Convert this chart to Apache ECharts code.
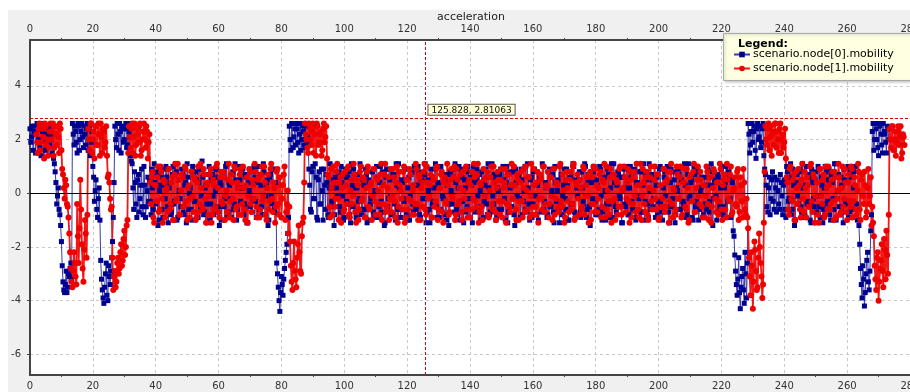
<!DOCTYPE html>
<html lang="en">
<head>
    <meta charset="UTF-8">
    <title>acceleration</title>
    <script src="https://cdn.jsdelivr.net/npm/echarts@6/dist/echarts.min.js"></script>
</head>
<body style="margin:0">
<div id="main" style="width: 910px; height:392px;"></div>

<script>
    // samples every 0.25 s: "Accel" holds the samples on the half second,
    // "AccelMid" the ones a quarter second later. node[1] starts 2 s later.
    var T_STEP = 0.5;
    var node0Start = 0;
    var node1Start = 2;

    var node0Accel = [
        2.4, 2.1, 1.6, 2.5, 2.2, 1.9, 2.6, 1.4, 2.3, 2.0, 2.5, 1.7, 2.4, 2.2, 1.5, 1.3,
        0.8, -0.4, 0.2, -0.8,
        -1.8, -3.3, -3.7, -2.9, -3.5, -3.1, -2.6,
        2.6, 1.8, 2.3, 1.5, 2.5, 2.0, 2.6, 1.7, 2.2, 2.4, 1.6, 2.5, 1.9,
        1.0, -0.3, 0.5, -0.9, 0.2,
        -2.5, -3.6, -4.1, -3.0, -3.8, -2.7, -3.4, -2.4,
        -0.9,
        2.5, 1.7, 2.2, 2.6, 1.5, 2.4, 2.0, 2.6, 1.8, 2.3, 1.4,
        1.1, -0.6, 0.4, -0.9, 0.7, -0.2, 0.9, -0.8, 0.3, -0.5, 0.6,
        0.5, -0.8, 0.2, 1.1, -0.4, 0.7, -1.0, 0.3, -0.6, 0.9, -0.2, 0.6, -1.1, 0.4, -0.7, 1.0, -0.3, 0.8, -0.9, 0.1,
        -0.5, 0.7, -0.8, 0.4, 1.1, -0.6, 0.2, -1.0, 0.8, -0.3, 0.5, -0.9, 0.9, -0.1, 0.6, -0.7, 0.3, -1.1, 1.0, -0.4,
        0.7, -0.8, 0.1, 0.9, -0.5, 0.4, -1.0, 0.6, -0.2, 1.1, -0.7, 0.3, -0.9, 0.8, -0.4, 0.5, -0.6, 1.0, -0.3, 0.2,
        -0.8, 0.7, -1.1, 0.4, -0.5, 0.9, -0.2, 0.6, -0.9, 1.0, -0.6, 0.3, -0.8, 0.8, -0.1, 0.5, -1.0, 0.7, -0.4, 0.9,
        -0.7,
        -2.6, -3.5, -4.4, -3.1, -3.8, -2.8, -2.2, -1.5,
        2.5, 1.6, 2.6, 2.1, 1.8, 2.4, 1.5, 2.6, 2.0, 2.3, 1.7, 2.5, 1.9,
        0.3, -0.7, 1.0, -0.2, 0.6, -1.0, 0.8, -0.4, 0.1, 0.9, -0.6, 0.4, -0.9, 1.1, -0.3, 0.5, -0.8, 0.2, 0.7, -0.5,
        1.0, -0.1, -0.9, 0.6, -0.4, 0.8, -1.1, 0.3, 0.9, -0.7, 0.2, -0.3, 1.1, -0.8, 0.5, -0.6, 0.7, -1.0, 0.4, -0.2,
        0.8, -0.9, 0.1, 0.6, -0.5, 1.0, -0.7, 0.3, -1.1, 0.9, -0.2, 0.5, -0.8, 0.7, -0.4, 1.1, -0.6, 0.2, -0.9, 0.4,
        -0.3, 0.9, -1.0, 0.6, -0.1, 0.8, -0.7, 0.3, -0.5, 1.0, -0.8, 0.4, -0.2, 0.7, -1.1, 0.5, -0.6, 0.9, -0.4, 0.2,
        1.1, -0.9, 0.3, -0.6, 0.8, -0.2, 0.5, -1.0, 0.7, -0.4, 0.1, 0.9, -0.7, 0.4, -0.8, 1.0, -0.3, 0.6, -1.1, 0.2,
        -0.5, 0.8, -0.9, 0.3, 1.0, -0.6, 0.5, -0.1, 0.7, -1.0, 0.4, -0.3, 0.9, -0.8, 0.2, -0.7, 1.1, -0.4, 0.6, -0.9,
        0.1, 0.7, -0.6, 1.0, -0.2, 0.4, -1.1, 0.8, -0.5, 0.3, -0.8, 0.9, -0.1, 0.6, -0.9, 0.5, -0.3, 1.0, -0.7, 0.2,
        -1.0, 0.6, -0.4, 0.9, -0.8, 0.3, 0.7, -0.2, 1.1, -0.6, 0.4, -0.9, 0.8, -0.5, 0.1, -0.7, 1.0, -0.3, 0.5, -1.1,
        0.7, -0.1, 0.9, -0.6, 0.3, -1.0, 0.6, -0.4, 1.0, -0.8, 0.2, 0.5, -0.7, 0.8, -0.3, 1.1, -0.9, 0.4, -0.5, 0.6,
        -0.2, 1.0, -0.8, 0.3, -0.6, 0.9, -1.0, 0.5, 0.1, -0.4, 0.7, -0.9, 1.1, -0.3, 0.4, -0.7, 0.8, -0.1, 0.6, -1.1,
        0.9, -0.5, 0.2, -0.8, 1.0, -0.3, 0.6, -0.9, 0.4, -0.1, 0.8, -0.7, 0.3, -1.0, 0.7, -0.4, 1.1, -0.6, 0.5, -0.2,
        -0.9, 0.6, -0.3, 1.0, -0.7, 0.2, 0.8, -0.5, 0.4, -1.1, 0.9, -0.2, 0.5, -0.8, 0.1, 0.7, -0.6, 1.0, -0.4, 0.3,
        -0.8, 1.1, -0.1, 0.5, -1.0, 0.7, -0.3, 0.9, -0.6, 0.2, -0.9, 0.6, -0.4, 1.0, -0.7, 0.3, 0.8, -0.2, 0.4, -1.0,
        0.6, -0.5, 0.9, -0.8, 0.2, 1.0, -0.3, 0.7, -0.9, 0.4,
        -1.6, -2.9, -3.8, -2.4, -4.3, -3.1, -3.6, -2.2, -3.9,
        2.6, 1.5, 2.3, 1.9, 2.5, 1.3, 2.6, 2.1, 1.7, 2.4, 1.4,
        0.7, -0.5, 0.2, -0.8, 0.5, -0.3, 0.6, -0.7, 0.1, -0.6, 0.4, -0.8,
        0.5, -0.9, 0.8, -0.2, 1.1, -0.6, 0.3, -1.0, 0.7, -0.4, 0.9, -0.7, 0.2, -0.8, 1.0, -0.3, 0.6, -1.1, 0.4, -0.5,
        0.8, -0.1, 0.9, -0.9, 0.3, -0.6, 1.0, -0.4, 0.5, -0.8, 0.7, -0.2, 1.1, -1.0, 0.1, -0.5, 0.6, -0.7, 0.9, -0.3,
        0.4, -0.9, 0.8, -0.6, 0.2, 1.0, -0.4,
        -0.6, -1.9, -3.4, -2.7, -4.2, -3.0, -2.2, -3.6, -1.4,
        2.3, 1.6, 2.6, 2.0, 1.4, 2.5, 1.8, 2.6, 2.2, 1.5, 2.4
    ];

    var node0AccelMid = [
        1.9, 2.5, 2.3, 1.5, 2.6, 2.0, 1.7, 2.4, 2.6, 1.6, 2.2, 2.5, 1.8, 2.0, 2.6, 1.1,
        0.4, -0.1, -0.6, -1.2,
        -2.7, -3.6, -3.4, -3.7, -3.0, -2.8, -3.2,
        2.2, 2.5, 1.9, 2.6, 1.6, 2.3, 2.1, 2.5, 1.8, 2.6, 2.0, 1.4, 2.3,
        0.6, 0.1, -0.6, -0.2, -1.0,
        -3.2, -3.9, -3.5, -2.6, -4.0, -3.1, -2.9, -1.8,
        0.4,
        2.0, 2.6, 1.6, 2.3, 2.5, 1.9, 2.4, 1.7, 2.6, 2.1, 1.2,
        0.2, 0.8, -0.4, 0.5, -0.7, 0.3, -0.5, 1.0, -0.9, 0.1, -0.3,
        -0.3, 0.9, -0.6, 0.4, 0.8, -1.2, 0.1, 0.6, -0.9, 0.3, 1.0, -0.5, 0.2, -0.8, 0.7, -0.4, 1.1, -1.0, 0.5, -0.2,
        0.9, -0.7, 0.3, -1.1, 0.6, 0.0, -0.6, 1.0, -0.3, 0.8, -0.9, 0.4, -0.5, 1.2, -0.8, 0.2, -0.4, 0.7, -1.0, 0.5,
        -0.1, 0.9, -0.7, 0.6, -1.2, 0.3, 0.8, -0.5, 1.0, -0.9, 0.4, -0.2, 0.7, -0.6, 1.1, -1.0, 0.2, 0.5, -0.8, 0.9,
        -0.4, 0.6, -1.1, 0.1, 0.8, -0.7, 1.0, -0.3, 0.4, -0.9, 0.7, -0.5, 1.1, -0.8, 0.3, -1.2, 0.6, -0.1, 0.9, -0.6,
        0.4,
        -3.0, -4.0, -3.7, -3.4, -3.2, -2.5, -1.9, -0.9,
        2.0, 2.6, 1.7, 2.4, 2.6, 1.9, 2.2, 1.6, 2.5, 1.8, 2.6, 2.1, 0.9,
        -0.6, 0.8, -0.2, 1.1, -0.9, 0.5, -0.4, 0.9, -1.0, 0.3, 0.7, -0.8, 0.2, -0.5, 1.0, -1.2, 0.6, -0.1, 0.8, -0.7,
        0.4, -1.0, 0.9, -0.3, 0.6, -0.8, 1.1, -0.5, 0.2, -0.9, 0.7, -0.2, 1.0, -0.6, 0.3, 0.9, -1.1, 0.5, -0.4, 0.8,
        -0.7, 0.1, 1.0, -0.9, 0.4, -0.3, 0.8, -1.2, 0.6, -0.5, 0.9, -0.1, -0.8, 0.7, -1.0, 0.3, 1.1, -0.6, 0.5, -0.2,
        0.9, -0.8, 0.2, -1.0, 0.7, -0.4, 1.0, -0.6, 0.3, 0.8, -0.9, 0.5, -0.2, 1.1, -0.7, 0.1, -1.1, 0.6, -0.3, 0.9,
        -0.5, 0.4, -0.9, 1.0, -0.1, 0.7, -0.8, 0.3, -1.2, 0.8, -0.4, 0.6, 1.1, -0.6, 0.2, -1.0, 0.9, -0.3, 0.5, -0.7,
        1.0, -0.2, 0.6, -1.1, 0.4, -0.7, 0.9, -0.5, 0.1, 0.8, -0.9, 0.3, -0.4, 1.1, -0.8, 0.6, -0.1, 0.7, -1.0, 0.2,
        -0.6, 0.9, -0.3, 0.5, -1.0, 1.0, -0.7, 0.2, -0.5, 0.8, -1.2, 0.4, 0.7, -0.2, 0.9, -0.8, 0.1, -0.6, 1.1, -0.4,
        0.5, -0.9, 0.8, -0.1, 0.3, -1.0, 0.6, -0.7, 1.0, -0.3, 0.2, -0.8, 0.9, -0.5, 0.7, -1.1, 0.4, 0.1, -0.6, 1.0,
        -0.8, 0.3, -0.2, 0.9, -1.0, 0.6, -0.4, 1.1, -0.7, 0.5, -0.1, 0.8, -0.9, 0.2, -0.5, 1.0, -0.6, 0.7, -1.2, 0.4,
        0.8, -0.3, 0.5, -0.8, 1.0, -0.1, -0.7, 0.6, -1.0, 0.9, -0.4, 0.2, -0.9, 1.1, -0.5, 0.3, 0.7, -0.2, -1.1, 0.6,
        -0.4, 1.0, -0.8, 0.2, 0.6, -0.6, 0.9, -1.0, 0.4, -0.2, 0.8, -0.7, 1.1, -0.3, 0.5, -0.9, 0.1, 0.7, -0.5, 1.0,
        0.3, -0.8, 0.9, -0.4, -1.0, 0.6, -0.1, 1.0, -0.7, 0.4, -0.5, 0.8, -1.1, 0.2, 0.9, -0.6, 0.5, -0.3, 1.1, -0.9,
        0.7, -0.2, 0.4, -0.9, 1.0, -0.5, 0.8, -1.0, 0.1, 0.6, -0.8, 0.3, -0.6, 0.9, -0.3, 1.1, -1.2, 0.5, -0.1, 0.7,
        -0.7, 0.2, 1.0, -0.5, 0.4, -0.9, 0.8, -0.2, 0.5, -1.4,
        -2.3, -3.4, -3.2, -3.7, -3.5, -2.8, -4.1, -3.0, -2.6,
        2.2, 1.8, 2.6, 2.3, 1.6, 2.4, 2.0, 2.5, 1.9, 2.6, 0.9,
        0.3, -0.7, 0.6, -0.2, 0.8, -0.6, 0.2, 0.5, -0.4, 0.7, -0.1, 0.3,
        -0.6, 1.0, -0.3, 0.6, -0.8, 0.9, -1.2, 0.4, -0.1, 0.8, -0.5, 1.1, -0.9, 0.3, -0.4, 0.7, -1.0, 0.9, -0.2, 0.5,
        -0.7, 1.0, -0.5, 0.6, -1.1, 0.2, 0.8, -0.3, 0.9, -1.0, 0.4, -0.6, 1.1, -0.2, 0.7, -0.8, 0.3, -1.1, 0.5, -0.4,
        1.0, -0.7, 0.6, -0.3, 0.8, -0.6, -1.0,
        -1.2, -2.8, -3.9, -3.2, -3.7, -2.5, -3.3, -2.9, -0.8,
        2.6, 2.0, 2.4, 1.7, 2.6, 2.2, 1.5, 2.3, 1.9, 2.5, 2.0
    ];

    var node1Accel = [
        2.2, 1.5, 2.6, 1.9, 2.4, 1.3, 2.5, 2.0, 1.7, 2.6, 2.3, 1.4, 2.5, 1.8, 2.1, 2.6, 1.6,
        0.7, -0.2, 0.3, -0.5,
        -1.5, -2.8, -3.5, -2.2, -3.1,
        -0.4, -2.6, 0.5, -1.9, -3.3, -1.0, -2.4,
        2.4, 1.6, 2.6, 2.0, 1.3, 2.5, 1.8, 2.2, 2.6, 1.5, 2.3, 1.9, 1.4,
        0.7, -0.2, -0.5,
        -3.6, -2.9, -3.3, -2.4, -2.8, -1.9, -2.5, -1.4, -2.0, -1.0,
        2.5, 1.7, 2.6, 2.1, 1.4, 2.4, 1.9, 2.6, 1.6, 2.3, 2.0, 2.5, 1.3, 2.2,
        -0.4, 0.8, -1.1, 0.3, 0.6, -0.7, 1.0, -0.2, 0.5, -0.9, 0.2, 0.9, -0.6, 0.4, -1.0, 0.7, -0.3, 1.1, -0.8, 0.1,
        0.6, -0.5, 0.9, -1.0, 0.3, -0.2, 0.8, -0.7, 0.5, -0.9, 1.0, -0.4, 0.2, -0.6, 0.7, -1.1, 0.4, -0.1, 0.9, -0.8,
        0.3, -0.5, 1.1, -0.7, 0.6, -0.3, 0.8, -1.0, 0.1, 0.5, -0.9, 0.7, -0.2, 1.0, -0.6, 0.4, -0.8, 0.9, -0.4, 0.2,
        -1.0, 0.6, -0.1, 0.8, -0.7, 0.3, 1.1, -0.5, 0.5, -0.9, 0.7, -0.3, 1.0, -0.8, 0.2, -0.6, 0.9, -0.2, 0.4, -1.1,
        0.8, -0.4, 0.6, -0.9, 0.3, 1.0, -0.7, 0.1,
        -0.5, -2.7, -3.6, -1.8, -3.2, -2.4, -1.2, -2.9, -1.6, -0.9,
        2.6, 2.0, 1.5, 2.4, 1.8, 2.6, 2.2, 1.4, 2.5, 1.9, 2.3, 1.6, 2.6, 2.1, 1.3,
        0.6, -0.9, 0.2, 1.0, -0.5, 0.8, -0.2, 0.4, -1.1, 0.7, -0.6, 0.3, 0.9, -0.8, 0.1, -0.4, 1.1, -0.7, 0.5, -1.0,
        0.8, -0.3, 0.6, -0.9, 0.2, 1.0, -0.6, 0.4, -0.1, 0.9, -0.8, 0.5, -0.4, 0.7, -1.0, 0.3, 1.1, -0.5, 0.6, -0.2,
        -0.7, 0.9, -0.3, 0.4, -1.1, 0.8, 0.1, -0.6, 1.0, -0.9, 0.5, -0.2, 0.7, -0.8, 0.3, -0.4, 0.9, -1.0, 0.6, 0.2,
        -0.5, 1.1, -0.8, 0.4, -0.1, 0.7, -0.9, 0.5, -0.3, 1.0, -0.6, 0.2, 0.8, -1.1, 0.6, -0.4, 0.3, -0.7, 0.9, -0.2,
        1.0, -0.8, 0.5, -0.3, 0.7, -1.0, 0.1, 0.9, -0.6, 0.4, -0.9, 0.8, -0.2, 0.6, -0.5, 1.1, -0.7, 0.3, -1.0, 0.5,
        -0.1, 0.8, -0.9, 0.6, -0.4, 1.0, -0.7, 0.2, 0.5, -0.8, 0.9, -0.3, 0.4, -1.1, 0.7, -0.5, 0.3, -0.2, 1.0, -0.6,
        0.7, -1.0, 0.4, -0.3, 0.9, -0.7, 0.1, 0.6, -0.9, 1.1, -0.5, 0.3, -0.8, 0.8, -0.2, 0.5, -0.6, 1.0, -0.4, 0.2,
        -0.9, 0.6, -0.1, 0.9, -0.8, 0.4, -0.5, 1.0, -0.3, 0.7, -1.1, 0.5, 0.2, -0.7, 0.8, -0.4, 1.1, -0.9, 0.3, -0.2,
        0.5, -0.6, 1.0, -0.8, 0.3, -0.1, 0.7, -1.0, 0.6, -0.4, 0.9, -0.7, 0.2, 0.8, -0.5, 0.4, -0.9, 1.0, -0.3, 0.6,
        -1.1, 0.7, -0.2, 0.5, -0.8, 0.9, -0.5, 0.1, 1.0, -0.7, 0.4, -0.3, 0.8, -0.9, 0.6, -0.1, 1.1, -0.6, 0.3, -1.0,
        0.9, -0.4, 0.6, -0.8, 0.2, 1.0, -0.6, 0.5, -0.2, 0.7, -1.0, 0.3, -0.5, 0.9, -0.7, 0.4, 0.8, -0.3, 1.1, -0.9,
        0.1, -0.6, 0.7, -0.2, 1.0, -0.8, 0.4, -0.5, 0.9, -1.1, 0.6, -0.3, 0.8, -0.7, 0.2, 1.0, -0.4, 0.5, -0.9, 0.3,
        -0.1, 0.8, -1.0, 0.6, -0.5, 0.9, -0.2, 0.4, -0.8, 1.1, -0.6, 0.3, 0.7, -0.9, 0.5, -0.3, 1.0, -0.7, 0.2, -0.4,
        0.8, -1.0, 0.6, -0.3, 0.9, -0.6,
        -0.2, -1.3, -3.1, -2.2, -4.3, -1.8, -2.9, -3.5, -1.5, -2.6, -3.9, -1.1,
        2.5, 1.8, 2.6, 2.1, 1.4, 2.3, 2.6, 1.7, 2.0, 2.4, 1.5, 2.2, 1.9, 1.3,
        0.4, -0.8, 1.0, -0.3, 0.7, -1.0, 0.2, 0.9, -0.6, 0.5, -0.2, 0.8, -0.9, 0.3, -0.5, 1.1, -0.7, 0.6, -0.1, 0.4,
        -1.1, 0.9, -0.4, 0.7, -0.8, 0.2, 1.0, -0.6, 0.5, -0.3, 0.8, -0.9, 0.1, 0.6, -0.7, 1.0, -0.2, 0.4, -1.0, 0.7,
        -0.5, 0.9, -0.3, 0.3, -0.8, 1.1, -0.6, 0.5, -0.1, 0.8, -0.9, 0.2, -0.4, 0.6,
        -0.5, -1.6, -3.2, -2.4, -4.0, -2.8, -1.9, -3.5, -2.1, -1.4, -3.0,
        2.4, 1.7, 2.5, 2.0, 1.4, 2.3, 1.8, 2.5, 1.5, 2.1
    ];

    var node1AccelMid = [
        1.9, 2.4, 1.6, 2.5, 2.1, 2.6, 1.8, 1.4, 2.3, 2.0, 2.6, 1.7, 2.2, 2.5, 1.5, 2.4, 0.9,
        0.2, 0.5, -0.4, -0.9,
        -2.2, -3.3, -2.9, -2.6, -3.4,
        -1.6, -1.3, -0.6, -2.8, -2.1, -1.5, -0.8,
        2.0, 2.6, 1.5, 2.3, 2.5, 1.8, 2.6, 1.4, 2.1, 2.4, 1.7, 2.5, 0.6,
        0.4, -0.6, -2.4,
        -3.1, -3.5, -2.6, -3.0, -2.2, -2.7, -1.7, -2.3, -1.2, 1.5,
        2.1, 2.4, 1.5, 2.6, 1.8, 2.2, 2.5, 1.4, 2.0, 2.6, 1.7, 2.3, 1.9, 0.4,
        0.6, -0.9, 0.3, -0.3, 1.0, -0.6, 0.8, -1.1, 0.4, 0.1, -0.7, 0.9, -0.4, 0.6, -1.0, 1.1, -0.2, 0.5, -0.8, 0.7,
        -0.5, 1.0, -0.3, 0.2, -0.9, 0.8, -0.1, 0.6, -1.0, 0.4, -0.7, 1.1, -0.5, 0.9, -0.2, 0.3, -0.8, 0.7, -1.1, 0.5,
        -0.6, 1.0, 0.2, -0.9, 0.8, -0.4, 0.6, -0.1, -0.7, 1.1, -0.3, 0.4, -1.0, 0.9, -0.5, 0.2, 0.7, -0.8, 1.0, -0.6,
        0.3, -1.1, 0.9, -0.4, 0.5, -0.2, 0.8, -0.9, 0.6, -0.6, 1.0, -0.1, 0.4, -1.0, 0.7, -0.3, 1.1, -0.7, 0.2, -0.5,
        0.9, -0.8, 0.3, -0.2, 0.7, -1.0, -0.4, -1.5,
        -1.8, -3.3, -2.6, -2.9, -3.5, -1.9, -2.2, -3.0, -1.1, 0.4,
        2.2, 1.7, 2.6, 2.0, 2.3, 1.5, 2.5, 2.6, 1.8, 2.2, 1.4, 2.4, 1.9, 2.5, 0.7,
        -0.5, 0.9, -0.8, 0.4, -0.2, 1.1, -1.0, 0.6, 0.2, -0.7, 0.8, -0.4, 1.0, -0.9, 0.5, -0.1, 0.7, -1.1, 0.3, -0.6,
        1.0, -0.2, 0.5, -0.9, 0.8, -0.5, 0.3, -1.0, 0.9, -0.3, 0.6, 0.1, -0.8, 1.1, -0.4, 0.7, -0.7, 0.2, -1.0, 0.9,
        -0.1, 0.6, -0.9, 1.0, -0.5, 0.3, -0.2, 0.8, -1.1, 0.5, -0.6, 0.9, -0.3, 0.1, -0.8, 1.1, -0.4, 0.7, -1.0, 0.4,
        0.8, -0.6, 1.0, -0.2, 0.3, -0.9, 0.6, -0.5, 0.9, -1.0, 0.2, 0.7, -0.7, 0.4, -0.3, 1.1, -0.8, 0.5, -0.1, 0.6,
        -1.0, 0.9, -0.4, 0.2, -0.7, 0.8, -0.2, 1.0, -0.9, 0.5, 0.3, -0.6, 1.1, -0.3, 0.7, -1.1, 0.4, -0.5, 0.9, -0.1,
        0.6, -0.8, 0.1, 1.0, -0.6, 0.4, -1.0, 0.8, -0.3, 0.5, -0.9, 0.2, 0.9, -0.4, 0.7, -0.7, 1.1, -0.2, 0.3, -1.0,
        0.5, -0.3, 0.8, -0.9, 0.2, 1.0, -0.6, 0.6, -0.1, -0.8, 0.9, -0.5, 0.4, -1.1, 0.7, -0.2, 1.0, -0.7, 0.3, 0.8,
        -0.4, 0.6, -1.0, 0.9, -0.2, 0.3, -0.7, 1.1, -0.5, 0.1, -0.9, 0.8, -0.3, 0.5, -0.6, 1.0, -1.0, 0.4, 0.7, -0.8,
        0.2, -0.5, 0.9, -0.1, 0.6, -1.1, 0.8, -0.4, 1.0, -0.7, 0.3, -0.2, 0.7, -0.9, 0.5, 1.1, -0.6, 0.1, -0.8, 0.9,
        -0.3, 0.7, -1.0, 0.4, -0.5, 1.0, -0.8, 0.2, 0.6, -0.2, 0.9, -1.1, 0.5, -0.4, 0.8, -0.7, 0.3, -0.9, 1.1, -0.1,
        0.4, -0.7, 0.8, -1.0, 0.6, -0.3, 0.1, 1.0, -0.6, 0.7, -0.9, 0.3, -0.2, 0.9, -0.5, 0.5, -1.1, 0.8, -0.4, 0.2,
        -0.8, 1.0, -0.2, 0.6, -0.9, 0.4, 0.9, -0.6, 0.2, -1.0, 0.7, -0.3, 1.1, -0.7, 0.5, -0.1, 0.8, -0.5, 0.3, -0.9,
        1.0, -0.4, 0.6, -1.1, 0.2, 0.8, -0.7, 0.4, -0.3, 0.9, -1.0, 0.5, -0.6, 1.1, -0.2, 0.7, -0.8, 0.1, 0.6, -0.5,
        0.9, -0.7, 0.3, -0.9, 0.4, -0.8,
        -0.9, -2.4, -3.8, -2.7, -3.3, -2.1, -3.6, -2.4, -2.0, -3.1, -3.4, 0.8,
        2.0, 2.4, 1.6, 2.5, 2.2, 1.8, 2.6, 2.3, 1.5, 2.6, 2.0, 1.7, 2.4, 0.6,
        -0.6, 0.9, -0.2, 0.5, -1.0, 0.8, -0.4, 0.3, -0.9, 1.1, -0.7, 0.2, 0.6, -0.5, 1.0, -0.3, 0.7, -1.1, 0.4, -0.8,
        0.9, -0.1, 0.5, -0.9, 1.0, -0.6, 0.3, -0.4, 0.8, -1.0, 0.6, -0.2, 1.1, -0.8, 0.2, -0.5, 0.9, -0.7, 0.4, -0.3,
        1.0, -0.9, 0.6, -0.6, 0.1, 0.8, -1.0, 0.7, -0.4, 0.3, -0.7, 0.9, -0.1, -1.2,
        -1.1, -2.7, -3.6, -2.2, -3.3, -2.5, -2.9, -1.7, -3.2, -2.3, -0.8,
        2.0, 2.5, 1.6, 2.3, 1.9, 2.5, 2.1, 1.3, 2.2, 1.8
    ];

    var xTicks = [0, 280, 20];            // min, max, label step
    var yTickValues = [-6, -4, -2, 0, 2, 4];
    var yRange = [-6.77, 5.71];
    var cursorX = 125.828;
    var cursorY = 2.81063;

    // merge the two sample sets in time order
    function toPoints(t0, values, midValues) {
        var pts = [];
        for (var i = 0; i < values.length; i++) {
            pts.push([t0 + i * T_STEP, values[i]]);
            if (i < midValues.length) {
                pts.push([t0 + i * T_STEP + T_STEP / 2, midValues[i]]);
            }
        }
        return pts;
    }

    var FONT = 'DejaVu Sans';
    var labelStyle = {color: '#333', fontFamily: FONT, fontSize: 10};

    function xAxisOf(pos) {
        return {
            type: 'value',
            position: pos,
            min: xTicks[0],
            max: xTicks[1],
            interval: xTicks[2],
            axisLine: {onZero: false, lineStyle: {color: '#444', width: 2}},
            axisTick: {show: false},
            minorTick: {show: true, splitNumber: 2, length: 2, lineStyle: {color: '#444'}},
            axisLabel: Object.assign({margin: 6, showMaxLabel: true, hideOverlap: false}, labelStyle),
            splitLine: {show: pos === 'bottom', lineStyle: {color: '#c8c8c8', type: [3, 3]}}
        };
    }

    var myChart = echarts.init(document.getElementById('main'));

    var option = {
        animation: false,
        backgroundColor: '#f0f0f0',
        graphic: [
            {type: 'rect', shape: {x: 0, y: 0, width: 910, height: 10}, style: {fill: '#fff'}, silent: true},
            {type: 'rect', shape: {x: 0, y: 0, width: 8, height: 392}, style: {fill: '#fff'}, silent: true},
            {type: 'text', x: 471, y: 17, style: {text: 'acceleration', fill: '#222', font: '11px "DejaVu Sans"', textAlign: 'center', textVerticalAlign: 'middle'}},
            {type: 'rect', z: 100, shape: {x: 723.5, y: 33.5, width: 190, height: 47}, style: {fill: '#ffffe1', stroke: '#a8a8a8', lineWidth: 1, shadowBlur: 3, shadowColor: 'rgba(0,0,0,0.25)', shadowOffsetX: 1, shadowOffsetY: 1}},
            {type: 'text', z: 101, x: 738, y: 44, style: {text: 'Legend:', fill: '#000', font: 'bold 11px "DejaVu Sans"', textVerticalAlign: 'middle'}}
        ],
        legend: {
            z: 102,
            left: 733,
            top: 49,
            orient: 'vertical',
            itemWidth: 16,
            itemHeight: 7,
            itemGap: 3,
            padding: 0,
            textStyle: {color: '#000', fontFamily: FONT, fontSize: 11, padding: [0, 0, 0, -2]},
            data: ['scenario.node[0].mobility', 'scenario.node[1].mobility']
        },
        grid: {
            left: 30,
            right: 0,
            top: 40,
            bottom: 17,
            outerBoundsMode: 'none',
            containLabel: false,
            show: true,
            backgroundColor: '#fff',
            borderWidth: 0
        },
        xAxis: [xAxisOf('bottom'), xAxisOf('top')],
        yAxis: {
            type: 'value',
            min: yRange[0],
            max: yRange[1],
            axisLine: {lineStyle: {color: '#444', width: 2}},
            axisTick: {show: true, length: 3, customValues: yTickValues, lineStyle: {color: '#444'}},
            axisLabel: Object.assign({margin: 9, customValues: yTickValues}, labelStyle),
            splitLine: {lineStyle: {color: '#c8c8c8', type: [3, 3]}}
        },
        series: [
            {
                name: 'scenario.node[0].mobility',
                type: 'line',
                xAxisIndex: 0,
                data: toPoints(node0Start, node0Accel, node0AccelMid),
                symbol: 'rect',
                symbolSize: 5,
                itemStyle: {color: '#000090'},
                lineStyle: {color: '#3a3aa8', width: 1},
                markLine: {
                    silent: true,
                    symbol: 'none',
                    label: {show: false},
                    data: [{yAxis: 0, lineStyle: {color: '#000', type: 'solid', width: 1}}]
                }
            },
            {
                name: 'scenario.node[1].mobility',
                type: 'line',
                xAxisIndex: 0,
                data: toPoints(node1Start, node1Accel, node1AccelMid),
                symbol: 'circle',
                symbolSize: 6,
                itemStyle: {color: '#ee0000'},
                lineStyle: {color: '#f01818', width: 1.8},
                markLine: {
                    silent: true,
                    symbol: 'none',
                    label: {show: false},
                    lineStyle: {color: '#e00000', type: [3, 2], width: 1},
                    data: [{xAxis: cursorX}, {yAxis: cursorY}]
                },
                markPoint: {
                    silent: true,
                    symbol: 'circle',
                    symbolSize: 0,
                    label: {
                        show: true,
                        position: [3, -13],
                        formatter: cursorX + ', ' + cursorY,
                        color: '#111',
                        fontFamily: FONT,
                        fontSize: 9,
                        backgroundColor: '#ffffd2',
                        borderColor: '#555',
                        borderWidth: 1,
                        padding: [1, 3, 0, 3]
                    },
                    data: [{coord: [cursorX, cursorY]}]
                }
            }
        ]
    };

    myChart.setOption(option);
</script>
</body>
</html>
